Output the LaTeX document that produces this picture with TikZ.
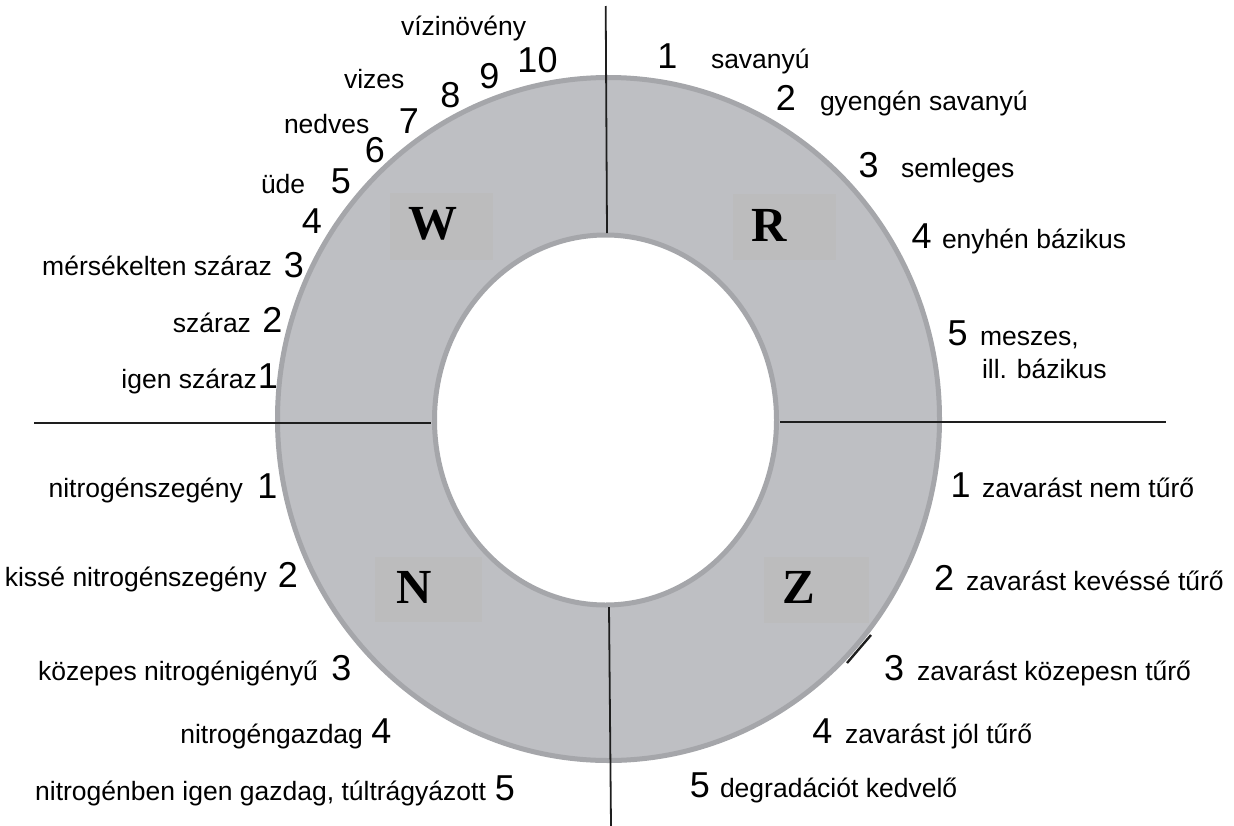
\documentclass[tikz,border=0pt]{standalone}
\usepackage{fontspec}
\setmainfont{Liberation Sans}
\newfontfamily\letterfont{Liberation Serif}
\definecolor{ringfill}{RGB}{190,191,195}
\definecolor{ringline}{RGB}{165,166,170}
\definecolor{boxfill}{RGB}{188,188,189}
\definecolor{rulecol}{RGB}{30,30,30}
\begin{document}
\begin{tikzpicture}[x=1pt,y=-1pt,
  every node/.style={inner sep=0pt, outer sep=0pt},
  lbl/.style={font=\fontsize{26.5}{30}\selectfont},
  num/.style={font=\fontsize{36}{40}\selectfont, anchor=base},
  letter/.style={font=\fontsize{49}{52}\letterfont\bfseries},
  lbox/.style={fill=boxfill},
  rulel/.style={draw=rulecol, line width=1.8pt},
  ringedge/.style={draw=ringline, line width=5pt}]
\useasboundingbox (0,0) rectangle (1234,825);
\clip (0,0) rectangle (1234,825);
% ring
\fill[ringfill, even odd rule] (608.5,419) ellipse [x radius=331pt, y radius=341.5pt]
  (605.5,420) ellipse [x radius=171pt, y radius=185pt];
\fill[white] (605.5,420) ellipse [x radius=171pt, y radius=185pt];
\draw[ringedge] (608.5,419) ellipse [x radius=331pt, y radius=341.5pt];
\draw[ringedge] (605.5,420) ellipse [x radius=171pt, y radius=185pt];
% label boxes
\node[lbox, minimum width=103pt, minimum height=67pt] (wbox) at (441.5,226.5) {};
\node[lbox, minimum width=103pt, minimum height=66pt] (rbox) at (784.5,227) {};
\node[lbox, minimum width=107pt, minimum height=65pt] (nbox) at (428.5,589.5) {};
\node[lbox, minimum width=105pt, minimum height=66pt] (zbox) at (816.5,590) {};
\node[letter] (W) at (433,224) {W};
\node[letter] (R) at (769,225) {R};
\node[letter] (N) at (414,587) {N};
\node[letter] (Z) at (799,587) {Z};
% dividing lines
\coordinate (vt1) at (605.7,6);   \coordinate (vt2) at (607,233);
\coordinate (vb1) at (609,607);   \coordinate (vb2) at (611,826);
\coordinate (hl1) at (34,423);    \coordinate (hl2) at (431,423);
\coordinate (hr1) at (780,422);   \coordinate (hr2) at (1166,422);
\coordinate (tk1) at (847,663);   \coordinate (tk2) at (871,635);
\draw[rulel] (vt1) -- (vt2);
\draw[rulel] (vb1) -- (vb2);
\draw[rulel] (hl1) -- (hl2);
\draw[rulel] (hr1) -- (hr2);
\draw[rulel, line width=2.4pt] (tk1) -- (tk2);
% W: water
\node[lbl, anchor=base west] (wtop) at (401,35) {vízinövény};
\node[num] (w10) at (537.5,72) {10};
\node[num] (w9) at (489.5,88) {9};
\node[num] (w8) at (450.5,107) {8};
\node[num] (w7) at (409,133) {7};
\node[lbl, anchor=base west] (wvizes) at (344,88) {vizes};
\node[lbl, anchor=base west] (wnedves) at (284,133) {nedves};
\node[num] (w6) at (375,162) {6};
\node[num] (w5) at (341,193) {5};
\node[lbl, anchor=base west] (wude) at (261,193) {üde};
\node[num] (w4) at (312,233) {4};
\node[lbl, anchor=base east] (wmsz) at (272,275) {mérsékelten száraz};
\node[num] (w3) at (294,277) {3};
\node[lbl, anchor=base east] (wsz) at (251,332) {száraz};
\node[num] (w2) at (272.5,332) {2};
\node[lbl, anchor=base east] (wisz) at (257,388) {igen száraz};
\node[num] (w1) at (268,388) {1};
% R: reaction
\node[num] (r1) at (667.5,68) {1};
\node[lbl, anchor=base west] (rl1) at (711,68) {savanyú};
\node[num] (r2) at (786,110) {2};
\node[lbl, anchor=base west] (rl2) at (820,110) {gyengén savanyú};
\node[num] (r3) at (868.5,177) {3};
\node[lbl, anchor=base west] (rl3) at (901,177) {semleges};
\node[num] (r4) at (921.5,248) {4};
\node[lbl, anchor=base west] (rl4) at (942,248) {enyhén bázikus};
\node[num] (r5) at (957.5,345) {5};
\node[lbl, anchor=base west] (rl5) at (980,345) {meszes,};
\node[lbl, anchor=base west] (rl5b) at (982,378) {ill. bázikus};
% N: nitrogen
\node[lbl, anchor=base east] (nl1) at (243,497) {nitrogénszegény};
\node[num] (n1) at (267.5,498) {1};
\node[lbl, anchor=base east] (nl2) at (267,586) {kissé nitrogénszegény};
\node[num] (n2) at (288,587) {2};
\node[lbl, anchor=base east] (nl3) at (318,680) {közepes nitrogénigényű};
\node[num] (n3) at (341.5,680) {3};
\node[lbl, anchor=base east] (nl4) at (363,743) {nitrogéngazdag};
\node[num] (n4) at (381.5,743) {4};
\node[lbl, anchor=base east] (nl5) at (486,800) {nitrogénben igen gazdag, túltrágyázott};
\node[num] (n5) at (505,800) {5};
% Z: disturbance
\node[num] (z1) at (960.5,497) {1};
\node[lbl, anchor=base west] (zl1) at (982,497) {zavarást nem tűrő};
\node[num] (z2) at (944,590) {2};
\node[lbl, anchor=base west] (zl2) at (966,590) {zavarást kevéssé tűrő};
\node[num] (z3) at (894,680) {3};
\node[lbl, anchor=base west] (zl3) at (917,680) {zavarást közepesn tűrő};
\node[num] (z4) at (822.5,743) {4};
\node[lbl, anchor=base west] (zl4) at (845,743) {zavarást jól tűrő};
\node[num] (z5) at (700,797) {5};
\node[lbl, anchor=base west] (zl5) at (720,797) {degradációt kedvelő};
\end{tikzpicture}
\end{document}
